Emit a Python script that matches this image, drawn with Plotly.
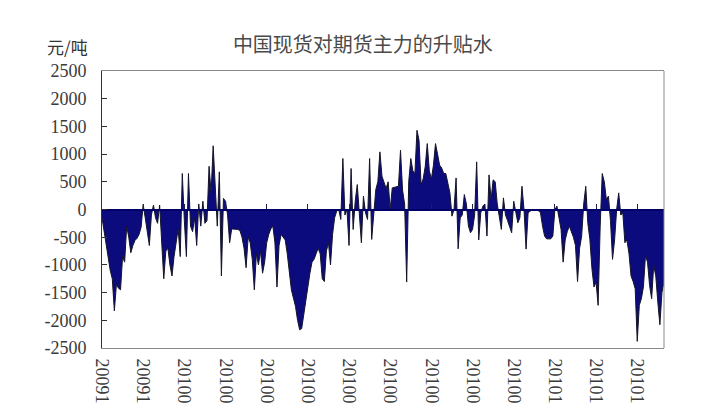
import plotly.graph_objects as go

# Monthly segments of the spot-vs-futures basis (yuan/ton)
nov_2009 = [-150, -400, -600, -850, -1100, -1250, -1830, -1350, -1420, -1450, -850, -950, -300, -500, -780, -650, -560, -520, -450, -320]
dec_2009 = [90, -150, -400, -650, -100, 80, -150, -250, 80, -500, -1250, -750, -700, -1000, -1200, -850, -550, -350, -850, 650]
jan_2010 = [-200, -850, 650, -300, -400, -150, -650, 100, -300, 150, -250, -200, 780, 300, 1150, 350, -300, 680, -1200, 200]
feb_2010 = [150, -100, -600, -350, -350, -360, -360, -380, -500, -700, -1050, -500, -600, -900, -1450, -800, -1000, -750, -1150, -950]
mar_2010 = [-600, -450, -350, -300, -600, -1400, -650, -450, -500, -550, -800, -1100, -1450, -1600, -1750, -2000, -2170, -2150, -1900, -1600]
apr_2010 = [-1350, -1150, -950, -900, -800, -700, -800, -1250, -1300, -750, -600, -1000, -450, -150, -30, 0, -180, 920, -100, 0]
may_2010 = [-650, 740, -360, 150, 450, -100, -600, 240, -60, -180, 920, -540, 0, 360, 500, 1040, 600, 480, 380, 500]
jun_2010 = [0, 390, 400, 420, 420, 1070, 350, 100, -1310, 500, 920, 700, 650, 1430, 1250, 450, 550, 770, 1190, 700]
jul_2010 = [550, 800, 1190, 1000, 800, 750, 650, 650, 480, 300, -120, 0, 570, -710, -150, -100, 270, 100, -300, -420]
aug_2010 = [-360, -100, 860, -550, -60, 60, 100, -480, 625, 180, 535, 500, 100, -150, -360, 210, -100, -200, -300, -420]
sep_2010 = [150, -60, -240, -150, 420, 0, -715, -60, -30, 0, -20, 0, -20, -60, -300, -480, -530, -530, -530, -480]
oct_2010 = [0, 60, -150, -360, -950, -550, -400, -300, -400, -500, -650, -1300, -700, -480, 100, 420, -250, -540, -1070, -1400]
nov_2010 = [-1310, -1730, -300, 650, 500, 180, 240, -200, -900, -550, 0, 300, -100, -60, -600, -550, -800, -1200, -1300, -1430]
dec_2010 = [-2380, -1730, -1610, -1400, -830, -950, -1370, -1610, -1010, -1200, -1670, -2080, -1500, -1300]

months = [nov_2009, dec_2009, jan_2010, feb_2010, mar_2010, apr_2010, may_2010,
          jun_2010, jul_2010, aug_2010, sep_2010, oct_2010, nov_2010, dec_2010]

# category labels as visible in the chart
x_tick_labels = ["20091", "20091", "20100", "20100", "20100", "20100", "20100",
                 "20100", "20100", "20100", "20100", "20101", "20101", "20101"]

y_tick_values = [2500, 2000, 1500, 1000, 500, 0, -500, -1000, -1500, -2000, -2500]
y_tick_labels = ["2500", "2000", "1500", "1000", "500", "0", "-500", "-1000", "-1500", "-2000", "-2500"]

title_text = "中国现货对期货主力的升贴水"
unit_text = "元/吨"

values = []
tick_positions = []
for seg in months:
    tick_positions.append(len(values))
    values.extend(seg)
x_index = list(range(len(values)))

fig = go.Figure()
fig.add_trace(go.Scatter(
    x=x_index, y=values, mode="lines", fill="tozeroy",
    fillcolor="#0b0b7e", line=dict(color="#14142a", width=1),
    showlegend=False, hoverinfo="skip"))
# helper trace so the category axis drawn at y=0 exists
fig.add_trace(go.Scatter(x=[x_index[0]], y=[0], xaxis="x2", mode="markers",
                         marker=dict(opacity=0), showlegend=False, hoverinfo="skip"))

serif = "Liberation Serif, Times New Roman, serif"
fig.update_layout(
    width=720, height=414,
    margin=dict(l=102, r=56, t=71, b=66),
    paper_bgcolor="white", plot_bgcolor="white",
    title=dict(text=title_text, x=0.504, xref="container", xanchor="center",
               y=1 - 45 / 414, yref="container", yanchor="middle",
               font=dict(family="Noto Sans CJK SC", size=20, color="#4a4a4a")),
    xaxis=dict(range=[0, len(values) - 1], tickmode="array", tickvals=tick_positions,
               ticktext=x_tick_labels, tickangle=90, ticks="", showline=True,
               linecolor="#8a8a8a", linewidth=1, mirror=True, showgrid=False, zeroline=False,
               automargin=False, ticklabelstandoff=6,
               tickfont=dict(family=serif, size=18, color="#3a3a3a")),
    xaxis2=dict(matches="x", overlaying="x", anchor="free", position=0.5,
                tickmode="array", tickvals=tick_positions, ticks="inside", ticklen=5,
                tickcolor="#222244", showticklabels=False, showline=True,
                linecolor="#000066", linewidth=2, showgrid=False, zeroline=False),
    yaxis=dict(range=[-2500, 2500], tickmode="array", tickvals=y_tick_values,
               ticktext=y_tick_labels, ticks="inside", ticklen=5, tickcolor="#333333",
               showline=True, linecolor="#333333", linewidth=1, mirror=False,
               showgrid=False, zeroline=False, automargin=False, ticklabelstandoff=11,
               tickfont=dict(family=serif, size=18, color="#3a3a3a")),
    shapes=[dict(type="line", xref="paper", yref="paper", x0=1, x1=1, y0=0, y1=1,
                 line=dict(color="#8a8a8a", width=1))],
    annotations=[dict(text=unit_text, xref="paper", yref="paper", x=-0.102, y=1.09,
                      xanchor="left", yanchor="middle", showarrow=False,
                      font=dict(family="Noto Sans CJK SC", size=17, color="#333333"))],
)

fig.write_html("out.html", config={"displayModeBar": False},
               post_script="document.body.style.margin='0';")
